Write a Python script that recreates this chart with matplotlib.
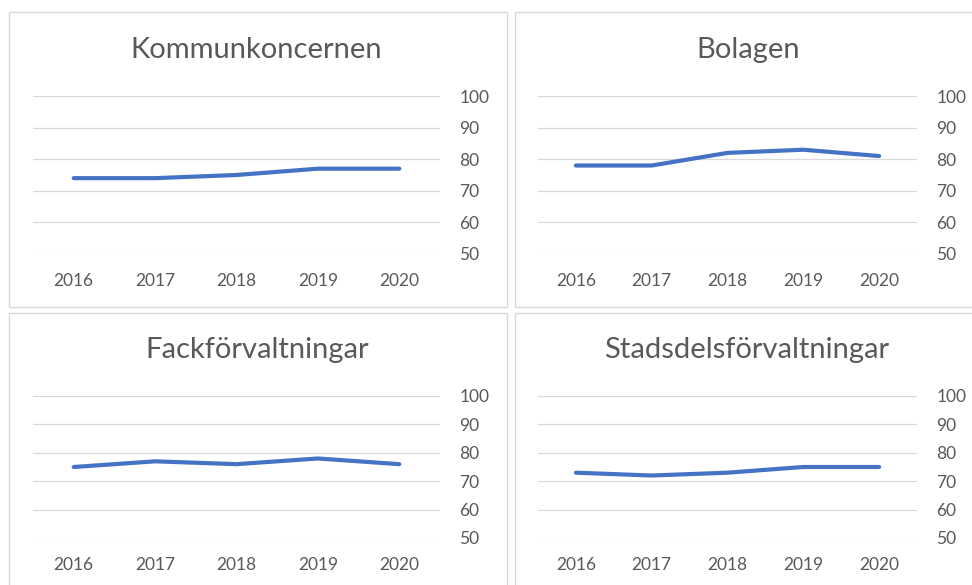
import matplotlib.pyplot as plt
from matplotlib.patches import Rectangle

# data
years = ['2016', '2017', '2018', '2019', '2020']
kommunkoncernen = [74, 74, 75, 77, 77]
bolagen = [78, 78, 82, 83, 81]
fackforvaltningar = [75, 77, 76, 78, 76]
stadsdelsforvaltningar = [73, 72, 73, 75, 75]
titles = ['Kommunkoncernen', 'Bolagen', 'Fackförvaltningar', 'Stadsdelsförvaltningar']
yticks = [50, 60, 70, 80, 90, 100]

plt.rcParams['font.family'] = ['Lato', 'DejaVu Sans']

W, H = 972, 585
fig = plt.figure(figsize=(W / 100, H / 100), dpi=100)

def px(x0, y0, x1, y1):
    # pixel box (top-left origin) -> figure fraction
    return [x0 / W, 1 - y1 / H, (x1 - x0) / W, (y1 - y0) / H]

# panel frames
panels = [(9, 12, 507, 307), (515, 12, 990, 307), (9, 313, 507, 600), (515, 313, 990, 600)]
for p in panels:
    fig.patches.append(Rectangle((p[0] / W, 1 - p[3] / H), (p[2] - p[0]) / W, (p[3] - p[1]) / H,
                                 transform=fig.transFigure, fill=False, edgecolor='#d9d9d9', lw=1))

plots = [(33, 96, 440, 254), (538, 96, 917, 254), (33, 396, 440, 538), (538, 396, 917, 538)]
title_pos = [(256, 50), (748, 50), (257, 350), (747, 350)]
series = [kommunkoncernen, bolagen, fackforvaltningar, stadsdelsforvaltningar]

for box, tp, vals, t in zip(plots, title_pos, series, titles):
    ax = fig.add_axes(px(*box))
    ax.plot(range(len(years)), vals, color='#4472c4', lw=3, solid_capstyle='round', solid_joinstyle='round')
    ax.set_xlim(-0.5, len(years) - 0.5)
    ax.set_ylim(50, 100)
    ax.set_yticks(yticks)
    ax.set_xticks(range(len(years)))
    ax.set_xticklabels(years)
    ax.yaxis.tick_right()
    ax.grid(axis='y', color='#d9d9d9', lw=0.9)
    ax.set_axisbelow(True)
    for s in ax.spines.values():
        s.set_visible(False)
    ax.tick_params(axis='y', length=0, pad=14, labelsize=12.5, labelcolor='#595959')
    ax.tick_params(axis='x', length=0, pad=14, labelsize=12.5, labelcolor='#595959')
    fig.text(tp[0] / W, 1 - tp[1] / H, t, ha='center', va='center', fontsize=21, color='#595959')

fig.savefig('out.png', dpi=100)
